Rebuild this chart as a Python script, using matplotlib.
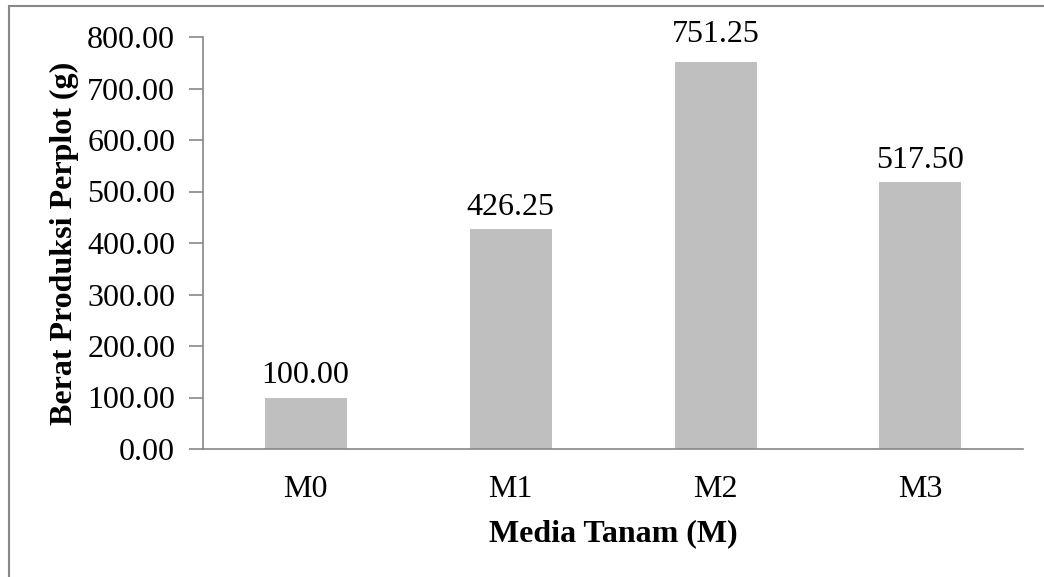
import matplotlib.pyplot as plt
from matplotlib.patches import Rectangle

categories = ['M0', 'M1', 'M2', 'M3']
berat = [100.00, 426.25, 751.25, 517.50]
yticks = [0, 100, 200, 300, 400, 500, 600, 700, 800]

plt.rcParams['font.family'] = ['Liberation Serif', 'DejaVu Serif']

fig = plt.figure(figsize=(10.44, 5.77), dpi=100)
ax = fig.add_axes([203 / 1044, 1 - 449 / 577, 820 / 1044, 412 / 577])

x = range(len(categories))
ax.bar(x, berat, width=0.4, color='#bfbfbf', zorder=2)

for xi, v in zip(x, berat):
    # the tallest label is nudged up a little so it clears the bar
    off = 26 if v > 700 else 14
    ax.text(xi, v + off, f'{v:.2f}', ha='center', va='bottom', fontsize=23,
            clip_on=False)

ax.set_xlim(-0.5, len(categories) - 0.5)
ax.set_ylim(0, 800)
ax.set_yticks(yticks)
ax.set_yticklabels([f'{t:.2f}' for t in yticks], fontsize=23)
ax.set_xticks(list(x))
ax.set_xticklabels(categories, fontsize=23)
ax.tick_params(axis='x', length=0, pad=19)
ax.tick_params(axis='y', length=10, width=1.2, color='#888888', pad=10)

for side in ['top', 'right']:
    ax.spines[side].set_visible(False)
for side in ['left', 'bottom']:
    ax.spines[side].set_color('#888888')
    ax.spines[side].set_linewidth(1.2)

ax.set_xlabel('Media Tanam (M)', fontsize=23, fontweight='bold', labelpad=11)
ax.set_ylabel('Berat Produksi Perplot (g)', fontsize=23, fontweight='bold', labelpad=6)

# chart area border, only left and top edges inside the canvas
fig.patches.append(Rectangle((9 / 1044, -0.1), 1.2, 1.1 - 6 / 577,
                             transform=fig.transFigure, fill=False,
                             edgecolor='#888888', linewidth=1.5))

fig.savefig('out.png', dpi=100)
